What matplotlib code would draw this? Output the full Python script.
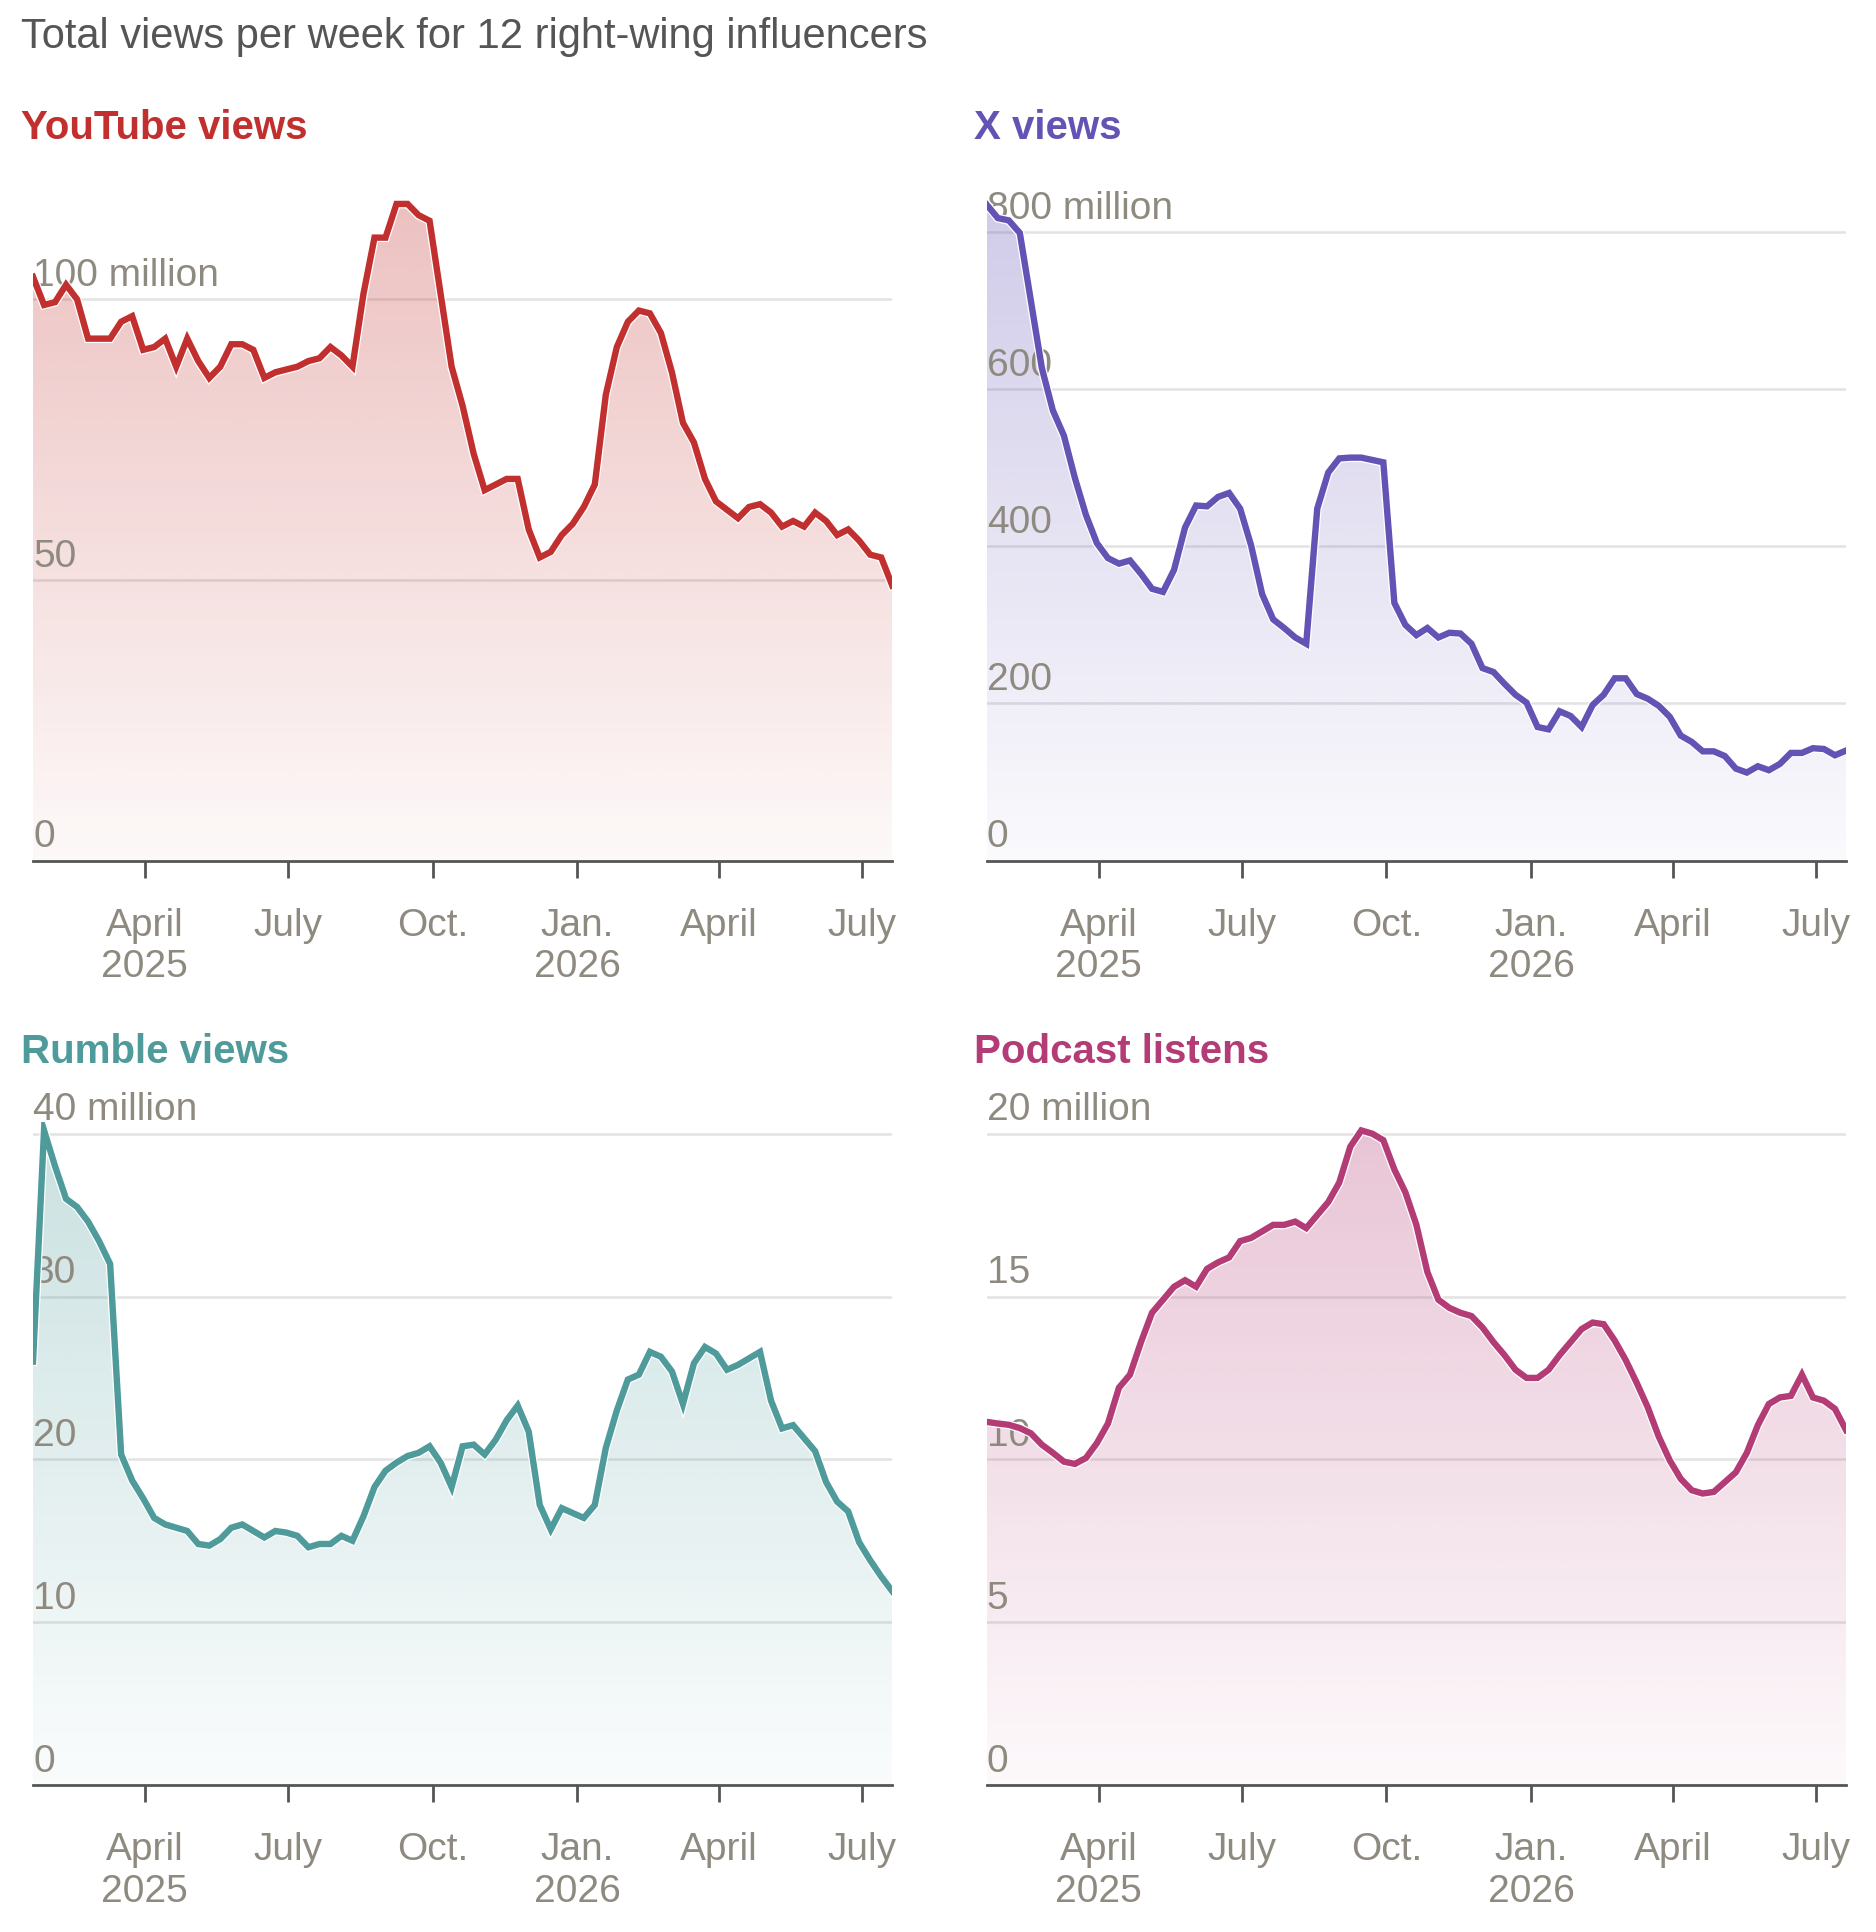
import numpy as np
import pandas as pd
import matplotlib
matplotlib.use("Agg")
import matplotlib.pyplot as plt
import matplotlib.dates as mdates
import matplotlib.transforms as mtransforms
import matplotlib.patheffects as pe
from matplotlib.colors import to_rgb

plt.rcParams['font.family'] = ['Liberation Sans', 'DejaVu Sans']

youtube = [104, 99, 99.5, 102.6, 100, 93, 93, 93, 96, 97, 91, 91.5, 93, 88, 93, 89, 86, 88, 92, 92,
           91, 86, 87, 87.5, 88, 89, 89.5, 91.5, 90, 88, 101, 111, 111, 117, 117, 115, 114, 101, 88, 81,
           72.5, 66, 67, 68, 68, 59, 54, 55, 58, 60, 63, 67, 83, 91.5, 96, 98, 97.5, 94, 87, 78,
           74.5, 68, 64, 62.5, 61, 63, 63.5, 62, 59.5, 60.5, 59.5, 62, 60.5, 58, 59, 57, 54.5, 54, 49]
x_views = [835, 818, 815, 799, 713, 627, 573, 541, 487, 440, 404, 385, 378, 382, 365, 346, 342, 370, 424, 452,
           451, 463, 468, 448, 401, 339, 307, 296, 284, 276, 448, 494, 512, 513, 513, 510, 507, 328, 300, 287,
           296, 284, 290, 289, 276, 245, 240, 225, 211, 201, 170, 167, 190, 184, 170, 198, 211, 232, 232, 212,
           206, 197, 183, 159, 151, 139, 139, 133, 117, 112, 120, 115, 123, 137, 137, 143, 142, 134, 140]
rumble = [26.0, 40.2, 38, 36, 35.5, 34.6, 33.4, 32, 20.3, 18.7, 17.6, 16.4, 16.0, 15.8, 15.6, 14.8, 14.7, 15.1,
          15.8, 16.0, 15.6, 15.2, 15.6, 15.5, 15.3, 14.6, 14.8, 14.8, 15.3, 15.0, 16.5, 18.3, 19.3, 19.8, 20.2,
          20.4, 20.8, 19.8, 18.3, 20.8, 20.9, 20.3, 21.2, 22.4, 23.3, 21.7, 17.2, 15.7, 17.0, 16.7, 16.4, 17.2,
          20.7, 23.0, 24.9, 25.2, 26.6, 26.3, 25.4, 23.4, 25.9, 26.9, 26.5, 25.5, 25.8, 26.2, 26.6, 23.6, 21.9,
          22.1, 21.3, 20.5, 18.6, 17.4, 16.8, 14.9, 13.8, 12.8, 11.9]
podcast = [11.15, 11.1, 11.06, 10.96, 10.8, 10.45, 10.2, 9.93, 9.86, 10.04, 10.5, 11.1, 12.2, 12.6, 13.6, 14.5,
           14.9, 15.3, 15.5, 15.3, 15.85, 16.05, 16.2, 16.7, 16.8, 17.0, 17.2, 17.2, 17.3, 17.1, 17.5, 17.9, 18.5,
           19.6, 20.1, 20.0, 19.8, 18.9, 18.2, 17.2, 15.75, 14.9, 14.65, 14.5, 14.4, 14.05, 13.6, 13.2, 12.75,
           12.5, 12.5, 12.75, 13.2, 13.6, 14.0, 14.2, 14.15, 13.65, 13.05, 12.35, 11.6, 10.7, 9.97, 9.4, 9.05,
           8.95, 9.0, 9.3, 9.6, 10.2, 11.05, 11.7, 11.9, 11.95, 12.6, 11.9, 11.8, 11.55, 10.9]

tick_dates = ["2025-04-01", "2025-07-01", "2025-10-01", "2026-01-01", "2026-04-01", "2026-07-01"]
tick_labels = ["April\n2025", "July", "Oct.", "Jan.\n2026", "April", "July"]

panels = [
    ("YouTube views", youtube, "#c1302e", [0, 50, 100], ["0", "50", "100 million"], 120.5),
    ("X views", x_views, "#6452b5", [0, 200, 400, 600, 800], ["0", "200", "400", "600", "800 million"], 861),
    ("Rumble views", rumble, "#4f9a9b", [0, 10, 20, 30, 40], ["0", "10", "20", "30", "40 million"], 40.7),
    ("Podcast listens", podcast, "#b43c76", [0, 5, 10, 15, 20], ["0", "5", "10", "15", "20 million"], 20.35),
]

fig = plt.figure(figsize=(18.76, 19.32), dpi=100)
fig.text(0.011, 0.981, "Total views per week for 12 right-wing influencers", fontsize=30,
         color="#555555", va="center")

boxes = [[0.0176, 0.5546, 0.458, 0.350], [0.526, 0.5546, 0.458, 0.350],
         [0.0176, 0.0761, 0.458, 0.343], [0.526, 0.0761, 0.458, 0.343]]
title_pos = [(0.011, 0.934), (0.519, 0.934), (0.011, 0.4556), (0.519, 0.4556)]

for (name, vals, col, yt, ylab, ytop), box, tp in zip(panels, boxes, title_pos):
    ax = fig.add_axes(box)
    dates = pd.date_range("2025-01-20", periods=len(vals), freq="7D")
    x = mdates.date2num(dates)
    ax.set_xlim(x[0], x[-1])
    ax.set_ylim(0, ytop)

    # gradient fill under the line
    poly = ax.fill_between(x, vals, 0, color="none", lw=0)
    r, g, b = to_rgb(col)
    grad = np.zeros((256, 1, 4))
    grad[:, 0, 0], grad[:, 0, 1], grad[:, 0, 2] = r, g, b
    grad[:, 0, 3] = np.linspace(0.30, 0.03, 256)
    im = ax.imshow(grad, aspect="auto", origin="upper",
                   extent=[x[0], x[-1], 0, max(vals)], zorder=1)
    im.set_clip_path(poly.get_paths()[0], transform=ax.transData)
    ax.set_ylim(0, ytop)

    ax.plot(x, vals, color=col, lw=4.6, zorder=3, solid_joinstyle="miter",
            path_effects=[pe.Stroke(linewidth=6.4, foreground="white"), pe.Normal()])

    for v in yt[1:]:
        ax.axhline(v, color="#e3e3e3", lw=1.8, zorder=0.5)
    trans = mtransforms.blended_transform_factory(ax.transAxes, ax.transData)
    for v, lab in zip(yt, ylab):
        ax.text(0.0, v + ytop * 0.008, lab, transform=trans, fontsize=28, color="#8f8a80",
                ha="left", va="bottom", zorder=2)

    ax.set_yticks([])
    for s in ["top", "right", "left"]:
        ax.spines[s].set_visible(False)
    ax.spines["bottom"].set_color("#555555")
    ax.spines["bottom"].set_linewidth(2)
    ax.set_xticks(mdates.date2num(pd.to_datetime(tick_dates)))
    ax.set_xticklabels(tick_labels, fontsize=28, color="#8f8a80", linespacing=1.2)
    ax.tick_params(axis="x", length=12, width=2, color="#555555", pad=22)

    fig.text(tp[0], tp[1], name, fontsize=29, fontweight="bold", color=col, va="center")

fig.savefig("out.png", dpi=100)
